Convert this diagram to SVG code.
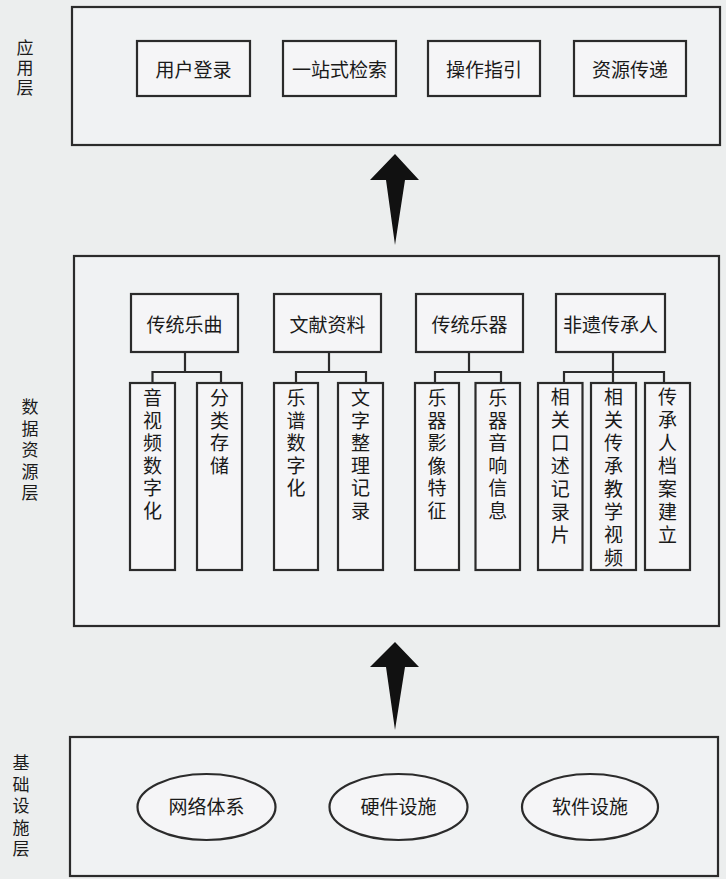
<svg xmlns="http://www.w3.org/2000/svg" width="726" height="879" viewBox="0 0 726 879">
<style>
.bg{fill:#eceeee}
.layer{fill:#f3f5f6;fill-opacity:0.6;stroke:#2b2b2b;stroke-width:2.2}
.box{fill:#f6f7f8;fill-opacity:0.7;stroke:#2b2b2b;stroke-width:2.2}
.conn{fill:none;stroke:#2b2b2b;stroke-width:2.2}
.arrow{fill:#111}
text{font-family:"Noto Sans CJK SC","Noto Sans",sans-serif;fill:#1a1a1a;dominant-baseline:central;text-anchor:middle}
.lbl{font-size:19px}
.v{font-size:19px;writing-mode:vertical-rl;text-anchor:start;letter-spacing:3.5px}
.v2{letter-spacing:4px}
.side{font-size:17px;writing-mode:vertical-rl;text-anchor:start;letter-spacing:4.5px}
</style>
<rect class="bg" x="0" y="0" width="726" height="879"/>

<g id="app-layer">
<rect class="layer" x="72" y="7" width="648" height="138"/>
<text class="side" x="25" y="39.5" style="letter-spacing:3px">应用层</text>
</g>
<g id="n-login"><rect class="box" x="137" y="41" width="113" height="55"/><text class="lbl" x="193.5" y="68">用户登录</text></g>
<g id="n-search"><rect class="box" x="283" y="41" width="113" height="55"/><text class="lbl" x="339.5" y="68">一站式检索</text></g>
<g id="n-guide"><rect class="box" x="428" y="41" width="112" height="55"/><text class="lbl" x="484" y="68">操作指引</text></g>
<g id="n-deliver"><rect class="box" x="574" y="41" width="112" height="55"/><text class="lbl" x="630" y="68">资源传递</text></g>

<g id="data-layer">
<rect class="layer" x="74" y="256" width="645" height="370"/>
<text class="side" x="30" y="398.5">数据资源层</text>
</g>
<g id="c-music"><rect class="box" x="131" y="294" width="107" height="58"/><text class="lbl" x="184.5" y="323">传统乐曲</text></g>
<g id="c-docs"><rect class="box" x="274" y="294" width="107" height="58"/><text class="lbl" x="327.5" y="323">文献资料</text></g>
<g id="c-instr"><rect class="box" x="416" y="294" width="107" height="58"/><text class="lbl" x="469.5" y="323">传统乐器</text></g>
<g id="c-heir"><rect class="box" x="556" y="294" width="109" height="58"/><text class="lbl" x="610.5" y="323">非遗传承人</text></g>

<g id="d1"><rect class="box" x="130" y="383" width="45" height="187"/><text class="v" x="152.5" y="388.5">音视频数字化</text></g>
<g id="d2"><rect class="box" x="197" y="383" width="45" height="187"/><text class="v" x="219.5" y="388.5">分类存储</text></g>
<g id="d3"><rect class="box" x="274" y="383" width="44" height="187"/><text class="v" x="296" y="388.5">乐谱数字化</text></g>
<g id="d4"><rect class="box" x="338" y="383" width="45" height="187"/><text class="v" x="360.5" y="388.5">文字整理记录</text></g>
<g id="d5"><rect class="box" x="415" y="383" width="44" height="187"/><text class="v" x="437" y="388.5">乐器影像特征</text></g>
<g id="d6"><rect class="box" x="475.5" y="383" width="44.5" height="187"/><text class="v" x="497.7" y="388.5">乐器音响信息</text></g>
<g id="d7"><rect class="box" x="538" y="383" width="44.5" height="187"/><text class="v v2" x="560.2" y="387.5">相关口述记录片</text></g>
<g id="d8"><rect class="box" x="591" y="383" width="45" height="187"/><text class="v v2" x="613.5" y="387.5">相关传承教学视频</text></g>
<g id="d9"><rect class="box" x="645" y="383" width="45" height="187"/><text class="v v2" x="667.5" y="387.5">传承人档案建立</text></g>

<g id="infra-layer">
<rect class="layer" x="70" y="737" width="648" height="139"/>
<text class="side" x="21" y="754.5">基础设施层</text>
</g>
<g id="i-net"><ellipse class="box" cx="206.5" cy="807" rx="69" ry="33"/><text class="lbl" x="206.5" y="805">网络体系</text></g>
<g id="i-hw"><ellipse class="box" cx="398.5" cy="807" rx="69" ry="33"/><text class="lbl" x="398.5" y="805">硬件设施</text></g>
<g id="i-sw"><ellipse class="box" cx="590" cy="807" rx="68" ry="33"/><text class="lbl" x="590" y="805">软件设施</text></g>

<g id="connectors">
<path class="conn" d="M185 352V372M152.5 383V372H221V383"/>
<path class="conn" d="M329 352V372M296 383V372H366V383"/>
<path class="conn" d="M469 352V372M435 383V372H501V383"/>
<path class="conn" d="M613 352V383M564 383V372H664V383"/>
<path class="arrow" d="M395 154L419 180H405L395 245L386 180H370Z"/>
<path class="arrow" d="M395 642L419 667H405L395 730L386 667H370Z"/>
</g>
</svg>
